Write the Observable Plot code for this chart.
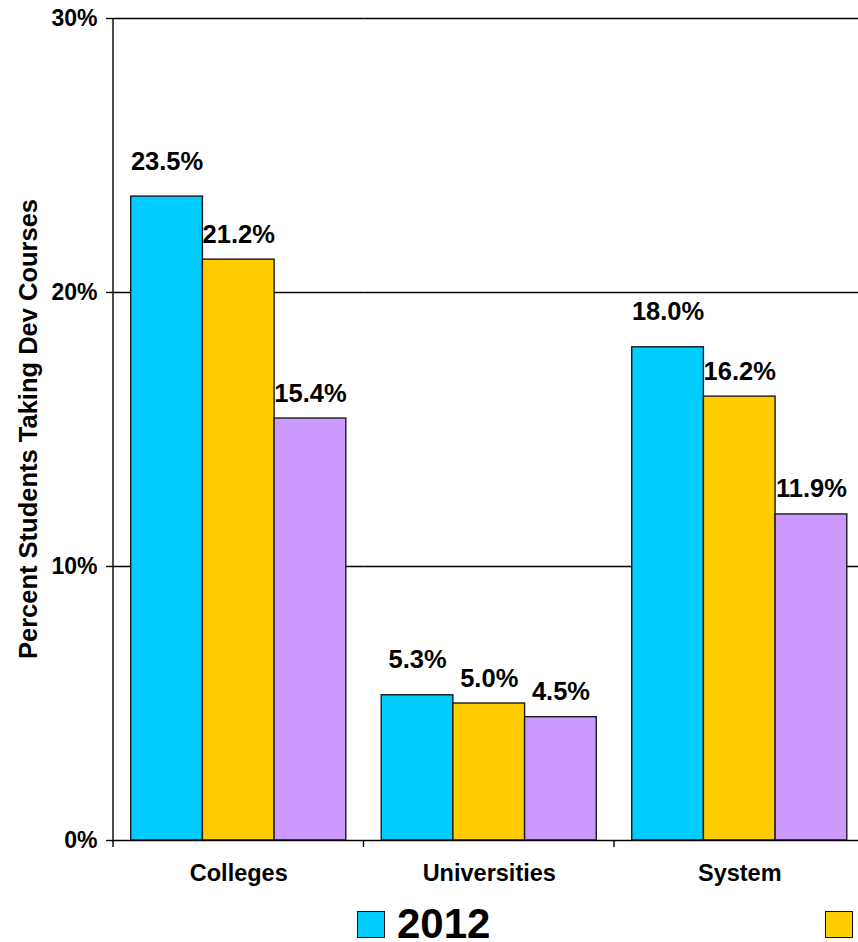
<!DOCTYPE html>
<html>
<head>
<meta charset="utf-8">
<script src="https://cdn.jsdelivr.net/npm/d3@7"></script>
<script src="https://cdn.jsdelivr.net/npm/@observablehq/plot@0.6"></script>
<style>
  html, body { margin: 0; background: #fff; font-family: Arial, "Liberation Sans", sans-serif; overflow: hidden; }
  #chart { width: 858px; overflow-x: clip; position: relative; background: #fff; }
  .legend { box-sizing: border-box; display: flex; align-items: flex-start; padding: 5px 0 0 357px; height: 47px; white-space: nowrap; }
  .legend .item { flex: 0 0 468px; display: flex; align-items: center; gap: 12px; }
  .legend .swatch { box-sizing: border-box; flex: 0 0 28px; height: 27px; border: 1.5px solid #111; }
  .legend .lab { font-size: 42px; font-weight: bold; line-height: 48px; color: #000; }
</style>
</head>
<body>
<div id="chart"></div>
<script>
// Share of students taking developmental courses, by institution type and year
const categories = ["Colleges", "Universities", "System"];
const years = ["2012", "2013", "2014"];
const colleges = [23.5, 21.2, 15.4];
const universities = [5.3, 5.0, 4.5];
const system = [18.0, 16.2, 11.9];
const colors = ["#00CCFF", "#FFCC00", "#CC99FF"];
const yTicks = [0, 10, 20, 30];
const gridTicks = [10, 20, 30];
const yTitle = "Percent Students Taking Dev Courses";

const rows = [colleges, universities, system].flatMap((vals, i) =>
  vals.map((v, j) => ({category: categories[i], year: years[j], value: v}))
);
const fmt = d => d.value.toFixed(1) + "%";

const font = "Arial, 'Liberation Sans', sans-serif";

const plot = Plot.plot({
  width: 858,
  height: 895,
  marginLeft: 113,
  marginRight: 0,
  marginTop: 18,
  marginBottom: 55,
  style: {fontFamily: font, fontWeight: "bold", color: "#000", background: "#fff"},
  fx: {domain: categories, range: [113, 864.5], padding: 0, round: false, label: null},
  x: {domain: years, paddingInner: 0, paddingOuter: 0.247, round: false, axis: null},
  y: {domain: [0, 30], ticks: yTicks},
  color: {domain: years, range: colors},
  marks: [
    Plot.ruleY(gridTicks, {stroke: "#000", strokeWidth: 1.4}),
    Plot.barY(rows, {fx: "category", x: "year", y: "value", fill: "year", stroke: "#1a1a1a", strokeWidth: 1.4}),
    Plot.ruleY([0], {stroke: "#000", strokeWidth: 1.6}),
    Plot.text(rows.filter(d => d.year === years[0]), {
      fx: "category", x: "year", y: "value", text: fmt,
      lineAnchor: "bottom", dy: -27, fontSize: 25.5, fill: "#000"
    }),
    Plot.text(rows.filter(d => d.year !== years[0]), {
      fx: "category", x: "year", y: "value", text: fmt,
      lineAnchor: "bottom", dy: -17, fontSize: 25.5, fill: "#000"
    }),
    Plot.axisY({ticks: yTicks, tickFormat: d => d + "%", tickSize: 7, tickPadding: 9, fontSize: 23, label: null, stroke: "#000", strokeWidth: 1.4}),
    Plot.axisFx({anchor: "bottom", tickSize: 0, tickPadding: 24, fontSize: 23.5, label: null})
  ]
});

const svg = d3.select(plot.tagName.toLowerCase() === "svg" ? plot : plot.querySelector("svg"));
const fx = plot.scale("fx");
const y = plot.scale("y");

// Vertical value axis and category boundary ticks
const axes = svg.append("g").attr("stroke", "#000").attr("stroke-width", 1.4);
const x0 = fx.range[0];
axes.append("line")
  .attr("x1", x0).attr("x2", x0)
  .attr("y1", y.apply(30)).attr("y2", y.apply(0) + 7);
categories.slice(1).forEach(c => {
  const xc = fx.apply(c);
  axes.append("line")
    .attr("x1", xc).attr("x2", xc)
    .attr("y1", y.apply(0)).attr("y2", y.apply(0) + 7);
});

// Rotated y-axis title
svg.append("text")
  .attr("transform", `translate(37,${(y.apply(0) + y.apply(30)) / 2}) rotate(-90)`)
  .attr("text-anchor", "middle")
  .attr("font-size", 25.5)
  .attr("font-weight", "bold")
  .attr("fill", "#000")
  .text(yTitle);

const chart = document.getElementById("chart");
chart.appendChild(plot);

// Legend below the plot
const legend = d3.select(chart).append("div").attr("class", "legend");
years.forEach((yr, i) => {
  const item = legend.append("div").attr("class", "item");
  item.append("span").attr("class", "swatch").style("background", colors[i]);
  item.append("span").attr("class", "lab").text(yr);
});
</script>
</body>
</html>
